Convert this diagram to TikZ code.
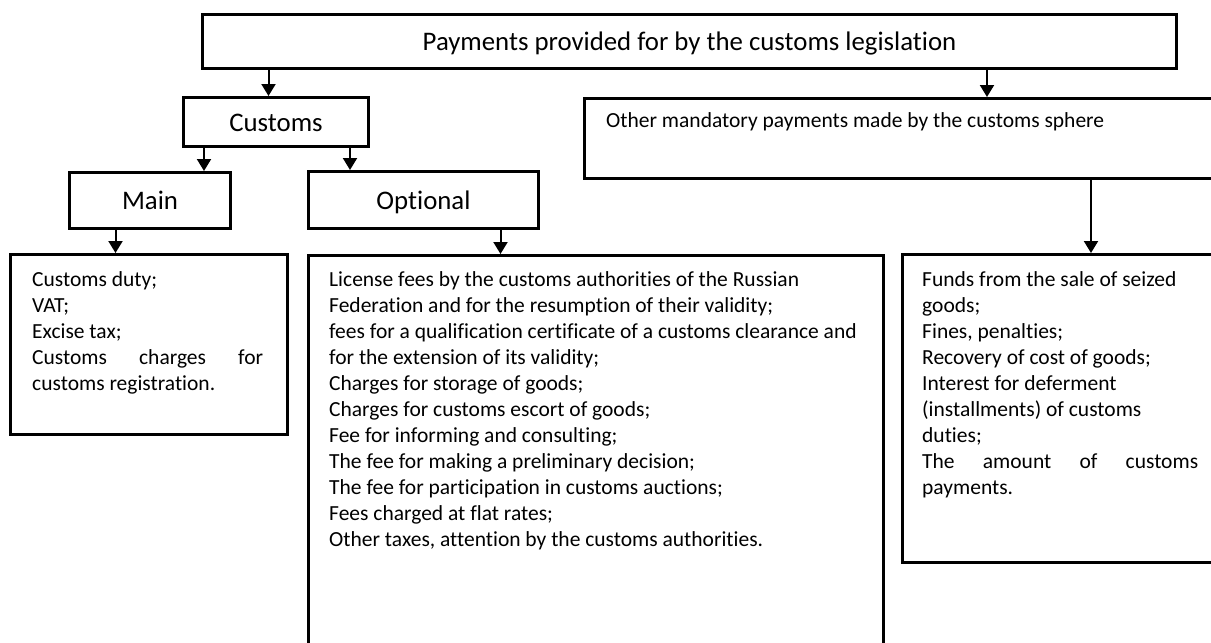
\documentclass[tikz,border=0pt]{standalone}
\usepackage{fontspec}
\setmainfont{Carlito}[Ligatures=NoCommon]
\usetikzlibrary{arrows.meta}

\tikzset{
  box/.style={draw, line width=3pt, inner sep=0pt, anchor=north west},
  head/.style={font=\fontsize{26.8}{32}\selectfont, text height=23pt, text depth=5pt},
  list/.style={font=\fontsize{21.5}{26}\selectfont, align=left, inner sep=0pt, anchor=north west},
  arr/.style={line width=2pt, -{Triangle[width=14pt,length=12pt]}},
}

\begin{document}
\begin{tikzpicture}[x=1pt,y=-1pt]

% frame of the picture
\clip (0,0) rectangle (1211,643);
\useasboundingbox (0,0) rectangle (1211,643);

% boxes
\node[box,head,minimum width=974pt,minimum height=54pt] (top) at (201,13) {Payments provided for by the customs legislation};
\node[box,head,minimum width=185pt,minimum height=49pt] (customs) at (182,96) {Customs};
\node[box,head,minimum width=161pt,minimum height=56pt] (main) at (68,171) {Main};
\node[box,head,minimum width=230pt,minimum height=57pt] (optional) at (307,170) {Optional};
\node[box,minimum width=640pt,minimum height=80pt] (other) at (583,97) {};
\node[box,minimum width=277pt,minimum height=180pt] (mainbox) at (9,253) {};
\node[box,minimum width=575pt,minimum height=450pt] (optbox) at (307,254) {};
\node[box,minimum width=320pt,minimum height=308pt] (otherbox) at (901,253) {};

% texts
\node[list] (othertext) at (606,112) {Other mandatory payments made by the customs sphere};
\node[list] (maintext) at (32,271) {Customs duty;\\ VAT;\\ Excise tax;\\
  \hbox to 231pt{Customs\hfill charges\hfill for}\\ customs registration.};
\node[list] (opttext) at (329,271) {License fees by the customs authorities of the Russian\\
  Federation and for the resumption of their validity;\\
  fees for a qualification certificate of a customs clearance and\\
  for the extension of its validity;\\
  Charges for storage of goods;\\
  Charges for customs escort of goods;\\
  Fee for informing and consulting;\\
  The fee for making a preliminary decision;\\
  The fee for participation in customs auctions;\\
  Fees charged at flat rates;\\
  Other taxes, attention by the customs authorities.};
\node[list] (othertext2) at (922,271) {Funds from the sale of seized\\ goods;\\ Fines, penalties;\\
  Recovery of cost of goods;\\ Interest for deferment\\ (installments) of customs\\ duties;\\
  \hbox to 276pt{The\hfill amount\hfill of\hfill customs}\\ payments.};

% arrows
\draw[arr] ([xshift=-7.5pt]customs.north |- top.south) -- ([xshift=-7.5pt]customs.north);
\draw[arr] ([xshift=404pt]other.north west |- top.south) -- ([xshift=404pt]other.north west);
\draw[arr] ([xshift=-28pt]main.north east |- customs.south) -- ([xshift=-28pt]main.north east);
\draw[arr] ([xshift=43pt]optional.north west |- customs.south) -- ([xshift=43pt]optional.north west);
\draw[arr] ([xshift=-34.5pt]main.south) -- ([xshift=-34.5pt]main.south |- mainbox.north);
\draw[arr] ([xshift=77pt]optional.south) -- ([xshift=77pt]optional.south |- optbox.north);
\draw[arr] ([xshift=190pt]otherbox.north west |- other.south) -- ([xshift=190pt]otherbox.north west);
\end{tikzpicture}
\end{document}
